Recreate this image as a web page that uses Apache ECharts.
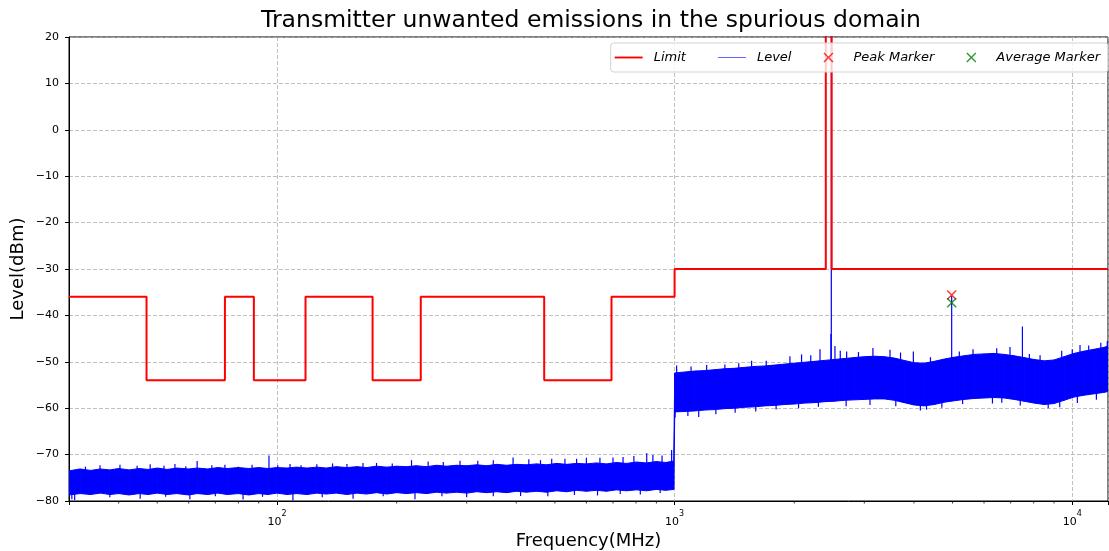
<!doctype html>
<html lang="en">
<head>
<meta charset="UTF-8" />
<title>Transmitter unwanted emissions in the spurious domain</title>
<script src="https://cdn.jsdelivr.net/npm/echarts/dist/echarts.min.js"></script>
<style>
  html, body { margin: 0; padding: 0; background: #fff; }
  #main { width: 1109px; height: 551px; }
</style>
</head>
<body>
<div id="main"></div>
<script>
// limit mask, MHz / dBm (repeated frequency = vertical step)
const limitFreq = [30, 47, 47, 74, 74, 87.5, 87.5, 118, 118, 174, 174, 230, 230, 470, 470, 694, 694, 1000, 1000, 2400, 2400, 2483.5, 2483.5, 12300];
const limitLevel = [-36, -36, -54, -54, -36, -36, -54, -54, -36, -36, -54, -54, -36, -36, -54, -54, -36, -36, -30, -30, 40, 40, -30, -30];

// measured noise floor, read as upper / lower edge of the trace
const levelFreq = [30, 32, 34, 36, 38, 40, 42.5, 45, 47.5, 50, 53, 56, 60, 63, 67, 71, 75, 80, 85, 90,
  95, 100, 106, 112, 119, 126, 133, 141, 150, 159, 168, 178, 189, 200, 212, 224, 238, 252, 267, 283,
  300, 318, 337, 357, 378, 400, 424, 450, 476, 505, 535, 567, 600, 636, 674, 714, 757, 802, 850, 900,
  950, 995,
  1001, 1060, 1120, 1190, 1260, 1335, 1415, 1500, 1590, 1685, 1785, 1890, 2000, 2120, 2250, 2380, 2520, 2670, 2830, 3000,
  3180, 3370, 3570, 3780, 4000, 4240, 4500, 4770, 5050, 5350, 5670, 6000, 6360, 6740, 7140, 7570, 8020, 8500, 9000, 9540,
  10100, 10700, 11350, 12000, 12300];
const levelHi = [-73.5, -73.1, -73.4, -73.1, -73.3, -73.0, -73.3, -73.0, -73.2, -72.9, -73.2, -72.9, -73.1, -72.9, -73.1, -72.8, -73.0, -72.8, -73.0, -72.8,
  -73.0, -72.8, -72.9, -72.7, -72.9, -72.7, -72.9, -72.6, -72.8, -72.6, -72.8, -72.5, -72.7, -72.5, -72.6, -72.4, -72.6, -72.3, -72.5, -72.3,
  -72.4, -72.2, -72.4, -72.1, -72.3, -72.1, -72.2, -72.0, -72.2, -71.9, -72.1, -71.9, -72.0, -71.8, -72.0, -71.7, -71.9, -71.6, -71.8, -71.5,
  -71.7, -71.4,
  -52.4, -52.2, -52.0, -51.9, -51.7, -51.5, -51.4, -51.2, -51.0, -50.9, -50.7, -50.5, -50.3, -50.1, -49.9, -49.7, -49.5, -49.3, -49.1, -48.9,
  -48.8, -48.9, -49.2, -49.7, -50.2, -50.3, -49.9, -49.4, -49.0, -48.7, -48.4, -48.3, -48.2, -48.4, -48.7, -49.1, -49.5, -49.8, -49.6, -48.9,
  -48.2, -47.7, -47.3, -46.9, -46.6];
const levelLo = [-78.7, -78.4, -78.6, -78.3, -78.6, -78.4, -78.7, -78.4, -78.6, -78.3, -78.6, -78.4, -78.7, -78.4, -78.6, -78.3, -78.6, -78.4, -78.7, -78.4,
  -78.6, -78.3, -78.6, -78.4, -78.6, -78.3, -78.5, -78.3, -78.6, -78.3, -78.5, -78.2, -78.5, -78.2, -78.4, -78.2, -78.4, -78.1, -78.3, -78.1,
  -78.3, -78.0, -78.2, -78.0, -78.2, -77.9, -78.1, -77.9, -78.1, -77.8, -78.0, -77.7, -77.9, -77.7, -77.9, -77.6, -77.8, -77.6, -77.8, -77.5,
  -77.7, -77.5,
  -60.8, -60.7, -60.6, -60.4, -60.3, -60.1, -60.0, -59.8, -59.7, -59.5, -59.4, -59.2, -59.1, -58.9, -58.8, -58.6, -58.5, -58.3, -58.2, -58.1,
  -58.0, -58.0, -58.3, -58.8, -59.3, -59.5, -59.2, -58.7, -58.4, -58.1, -57.9, -57.8, -57.7, -57.8, -58.1, -58.5, -58.9, -59.2, -59.0, -58.3,
  -57.6, -57.2, -56.9, -56.6, -56.4];

// spurs sticking out of the noise band: frequency, foot (inside band), tip
const spurFreq = [
  33, 35.9, 40.3, 44.5, 48, 52, 55.4, 59, 63, 68.6, 74, 80, 86.6, 95.5, 100.5, 107.9, 115, 126, 138, 150,
  164.6, 178, 195, 218, 240, 262, 288.7, 320, 350, 392.5, 430, 460, 490.9, 530, 567, 600, 649, 700, 742, 790,
  851, 882, 930, 983,
  30.5, 31, 38, 45.3, 52.5, 60.4, 70, 82.2, 92, 109.7, 130, 155.4, 185, 222.4, 260, 300, 350, 410, 480, 560,
  640, 730, 820, 920,
  1012, 1100, 1204, 1338, 1450, 1562, 1700, 1950, 2086, 2200, 2321, 2472, 2478, 2531, 2610, 2708, 2900, 3153, 3481, 3700,
  3985, 4400, 4975, 5200, 5629, 6457, 6973, 7494, 7800, 8300, 9408, 10000, 10460, 11000, 11800, 12250,
  1003, 1080, 1150, 1270, 1420, 1600, 1800, 2050, 2300, 2700, 3100, 3600, 4150, 4300, 4700, 5300, 6300, 6650, 7400, 8700,
  9300, 10300, 11500];
const spurFoot = [
  -74, -74, -74, -74, -74, -74, -74, -74, -74, -74, -74, -74, -73.8, -73.8, -73.8, -73.8, -73.8, -73.7, -73.7, -73.6,
  -73.5, -73.4, -73.4, -73.3, -73.2, -73.1, -73.0, -72.9, -72.8, -72.7, -72.6, -72.6, -72.5, -72.4, -72.4, -72.3, -72.2, -72.2, -72.1, -72.1,
  -72.0, -72.0, -72.0, -72.0,
  -78, -78, -78, -78, -78, -78, -78, -78, -78, -78, -78, -78, -78, -78, -78, -77.9, -77.8, -77.7, -77.6, -77.5,
  -77.4, -77.3, -77.2, -77.2,
  -54, -53.5, -53.3, -53.0, -52.7, -52.4, -52.2, -51.5, -51.2, -51.0, -51.0, -51.0, -51.0, -50.6, -50.5, -50.4, -50.2, -50.0, -49.7, -50.1,
  -50.8, -51.2, -50.5, -50.0, -49.7, -49.5, -49.6, -50.0, -50.5, -50.8, -50.2, -49.6, -49.0, -48.6, -48.2, -47.9,
  -60, -60, -60, -59.7, -59.3, -59.0, -58.7, -58.4, -58.1, -57.8, -57.5, -57.8, -58.8, -58.8, -58.2, -57.6, -57.3, -57.3, -57.8, -58.5,
  -58.2, -57.0, -56.5];
const spurTip = [
  -72.6, -72.3, -72.2, -72.4, -72.1, -72.4, -72.0, -72.5, -71.4, -72.3, -72.2, -72.6, -72.2, -70.2, -72.3, -72.0, -72.3, -72.1, -71.9, -72.0,
  -71.8, -71.8, -71.9, -71.2, -71.5, -71.6, -71.3, -71.3, -71.2, -70.6, -71.0, -71.2, -70.9, -70.9, -70.9, -70.7, -70.7, -70.6, -70.5, -70.3,
  -69.7, -70.1, -70.2, -69.0,
  -79.6, -79.8, -79.2, -79.5, -79.1, -79.6, -79.0, -79.7, -79.1, -79.9, -79.2, -79.5, -79.0, -79.6, -79.0, -79.2, -79.0, -78.9, -79.0, -78.7,
  -78.8, -78.5, -78.6, -78.3,
  -50.8, -51.0, -50.7, -50.6, -50.3, -49.8, -49.8, -48.8, -48.4, -48.6, -47.3, -44.0, 30, -46.6, -47.6, -47.8, -47.9, -47.0, -47.4, -48.0,
  -47.8, -49.0, -35.8, -47.8, -47.3, -47.1, -46.8, -42.4, -48.3, -48.6, -47.6, -47.3, -46.4, -46.5, -45.9, -45.5,
  -62.0, -61.7, -61.9, -61.3, -61.0, -60.7, -60.3, -60.0, -59.7, -59.6, -59.3, -59.6, -60.5, -60.3, -59.9, -59.1, -59.0, -58.8, -59.4, -60.0,
  -59.8, -58.9, -58.2];

const peakFreq = [4975];
const peakLevel = [-35.6];
const avgFreq = [4975];
const avgLevel = [-37.3];

const minorTickValues = [40, 50, 60, 70, 80, 90, 200, 300, 400, 500, 600, 700, 800, 900,
  2000, 3000, 4000, 5000, 6000, 7000, 8000, 9000];

const FONT = "DejaVu Sans";
const X_ICON = "path://M0,1L1,0L5,4L9,0L10,1L6,5L10,9L9,10L5,6L1,10L0,9L4,5Z";
const BLUE = "#0000ff";

const chart = echarts.init(document.getElementById("main"));

const option = {
  backgroundColor: "#fff",
  animation: false,
  graphic: [{
    type: "text",
    x: 591,
    y: 21,
    style: {
      text: "Transmitter unwanted emissions in the spurious domain",
      font: "23.5px '" + FONT + "'",
      fill: "#000",
      textAlign: "center",
      textVerticalAlign: "middle"
    }
  }],
  legend: {
    data: [
      { name: "Limit", icon: "path://M0,0H30V2H0Z", itemStyle: { color: "#ff0000" } },
      { name: "Level", icon: "path://M0,0H30V1H0Z", itemStyle: { color: "#5a5aff" } },
      { name: "Peak Marker", icon: X_ICON, itemStyle: { color: "#ff0000" } },
      { name: "Average Marker", icon: X_ICON, itemStyle: { color: "#008000" } }
    ],
    right: 1,
    top: 43,
    padding: [8, 8, 8, 4],
    itemGap: 32,
    itemWidth: 28,
    itemHeight: 10,
    backgroundColor: "rgba(255,255,255,0.8)",
    borderColor: "#d4d4d4",
    borderWidth: 1,
    borderRadius: 3,
    textStyle: { fontFamily: FONT, fontSize: 13, fontStyle: "italic", color: "#000", padding: [0, 0, 0, 6] }
  },
  grid: {
    left: 69, right: 1, top: 37, bottom: 50,
    outerBoundsMode: "none",
    containLabel: false,
    show: true, borderColor: "#000", borderWidth: 1
  },
  xAxis: {
    type: "log",
    logBase: 10,
    min: 30,
    max: 12300,
    name: "Frequency(MHz)",
    nameLocation: "middle",
    nameGap: 31,
    nameMoveOverlap: false,
    nameTextStyle: { fontFamily: FONT, fontSize: 18, color: "#000" },
    axisLine: { onZero: false, lineStyle: { color: "#000", width: 1 } },
    axisTick: { length: 4, lineStyle: { color: "#000" } },
    axisLabel: {
      margin: 9,
      formatter: function (v) {
        const l = Math.log10(v);
        const e = Math.round(l);
        if (Math.abs(l - e) > 1e-6) return "";
        return "{b|10}{s|" + e + "}";
      },
      rich: {
        b: { fontFamily: FONT, fontSize: 11, color: "#000", lineHeight: 18, verticalAlign: "bottom" },
        s: { fontFamily: FONT, fontSize: 8, color: "#000", lineHeight: 10, verticalAlign: "top" }
      }
    },
    splitLine: { show: true, lineStyle: { color: "#b0b0b0", type: [4, 2], width: 0.8 } }
  },
  yAxis: {
    type: "value",
    min: -80,
    max: 20,
    interval: 10,
    name: "Level(dBm)",
    nameLocation: "middle",
    nameGap: 42,
    nameMoveOverlap: false,
    nameTextStyle: { fontFamily: FONT, fontSize: 18, color: "#000" },
    axisLine: { show: true, lineStyle: { color: "#000", width: 1 } },
    axisTick: { show: true, length: 4, lineStyle: { color: "#000" } },
    axisLabel: {
      margin: 10,
      fontFamily: FONT,
      fontSize: 11,
      color: "#000",
      formatter: function (v) { return String(v).replace("-", "\u2212"); }
    },
    splitLine: { show: true, lineStyle: { color: "#b0b0b0", type: [4, 2], width: 0.8 } }
  },
  series: [
    {
      name: "Limit",
      type: "line",
      data: limitFreq.map(function (f, i) { return [f, limitLevel[i]]; }),
      symbol: "none",
      color: "#ff0000",
      lineStyle: { width: 2, color: "#ff0000" },
      silent: true
    },
    {
      // noise band: one filled quad between consecutive readings
      name: "Level",
      type: "custom",
      color: BLUE,
      clip: true,
      silent: true,
      data: levelFreq.map(function (f, i) { return [f, levelHi[i], levelLo[i]]; }),
      renderItem: function (params, api) {
        const i = params.dataIndex;
        if (i >= levelFreq.length - 1) return;
        const a1 = api.coord([levelFreq[i], levelHi[i]]);
        const b1 = api.coord([levelFreq[i + 1], levelHi[i + 1]]);
        const b2 = api.coord([levelFreq[i + 1], levelLo[i + 1]]);
        const a2 = api.coord([levelFreq[i], levelLo[i]]);
        return {
          type: "polygon",
          shape: { points: [a1, b1, b2, a2] },
          style: { fill: BLUE, stroke: BLUE, lineWidth: 1 }
        };
      }
    },
    {
      // spurs on the noise trace
      name: "Level",
      type: "custom",
      color: BLUE,
      clip: true,
      silent: true,
      data: spurFreq.map(function (f, i) { return [f, spurFoot[i], spurTip[i]]; }),
      renderItem: function (params, api) {
        const p1 = api.coord([api.value(0), api.value(1)]);
        const p2 = api.coord([api.value(0), api.value(2)]);
        return {
          type: "line",
          shape: { x1: p1[0], y1: p1[1], x2: p2[0], y2: p2[1] },
          style: { stroke: BLUE, lineWidth: 1.2 }
        };
      }
    },
    {
      name: "Peak Marker",
      type: "scatter",
      data: peakFreq.map(function (f, i) { return [f, peakLevel[i]]; }),
      symbol: X_ICON,
      symbolSize: 10,
      color: "#ff0000",
      itemStyle: { color: "#ff0000" },
      z: 5
    },
    {
      name: "Average Marker",
      type: "scatter",
      data: avgFreq.map(function (f, i) { return [f, avgLevel[i]]; }),
      symbol: X_ICON,
      symbolSize: 10,
      color: "#008000",
      itemStyle: { color: "#008000" },
      z: 5
    },
    {
      // log minor ticks under the x axis
      type: "custom",
      data: minorTickValues.map(function (f) { return [f, -80]; }),
      silent: true,
      renderItem: function (params, api) {
        const p = api.coord([api.value(0), api.value(1)]);
        return {
          type: "line",
          shape: { x1: p[0], y1: p[1], x2: p[0], y2: p[1] + 2.5 },
          style: { stroke: "#000", lineWidth: 0.8 }
        };
      }
    }
  ]
};

chart.setOption(option);
</script>
</body>
</html>
